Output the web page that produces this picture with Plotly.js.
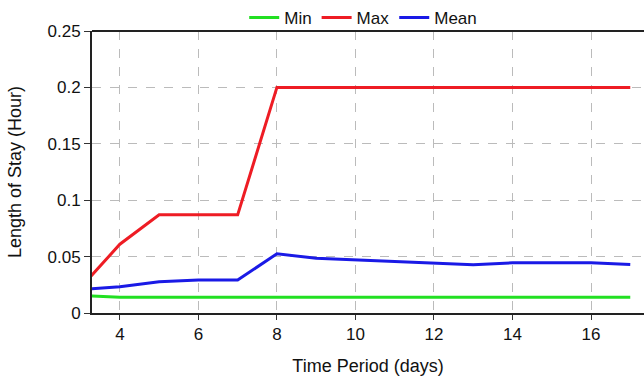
<!DOCTYPE html>
<html><head><meta charset="utf-8">
<script src="https://cdn.plot.ly/plotly-3.0.1.min.js"></script>
<style>html,body{margin:0;padding:0;background:#fff}#c{width:644px;height:379px}</style>
</head><body><div id="c"></div>
<script>
const days = [3, 4, 5, 6, 7, 8, 9, 10, 11, 12, 13, 14, 15, 16, 17];
const minVals = [0.0155, 0.014, 0.014, 0.014, 0.014, 0.014, 0.014, 0.014, 0.014, 0.014, 0.014, 0.014, 0.014, 0.014, 0.014];
const maxVals = [0.0224, 0.061, 0.087, 0.087, 0.087, 0.2, 0.2, 0.2, 0.2, 0.2, 0.2, 0.2, 0.2, 0.2, 0.2];
const meanVals = [0.0209, 0.0233, 0.0278, 0.0292, 0.0292, 0.0525, 0.0485, 0.047, 0.0458, 0.0446, 0.0428, 0.0445, 0.0445, 0.0445, 0.043];
const seriesNames = ['Min', 'Max', 'Mean'];

const font = 'Liberation Sans, Arial, sans-serif';
const mk = (y, name, color) => ({x: days, y: y, name: name, type: 'scatter', mode: 'lines', line: {color: color, width: 3}});
const data = [
  mk(minVals, seriesNames[0], '#22e022'),
  mk(maxVals, seriesNames[1], '#ee1c24'),
  mk(meanVals, seriesNames[2], '#1a1ae6')
];
const grid = {showgrid: true, gridcolor: '#bbbbbb', griddash: 'dash', gridwidth: 1};
const layout = {
  width: 644, height: 379,
  margin: {l: 92, r: 0, t: 31, b: 66, autoexpand: false},
  paper_bgcolor: '#fff', plot_bgcolor: '#fff',
  font: {family: font, size: 17, color: '#111'},
  showlegend: true,
  legend: {orientation: 'h', xref: 'container', yref: 'container', x: 0.564, xanchor: 'center', y: 1, yanchor: 'top', font: {size: 17}, itemwidth: 30, tracegroupgap: 0, bgcolor: 'rgba(0,0,0,0)'},
  xaxis: Object.assign({
    range: [3.29, 17.35], tickvals: [4, 6, 8, 10, 12, 14, 16], ticks: 'outside', ticklen: 5, tickcolor: '#333',
    showline: true, linecolor: '#222', linewidth: 2, mirror: false, zeroline: false,
    title: {text: 'Time Period (days)', font: {size: 18}, standoff: 16}
  }, grid),
  yaxis: Object.assign({
    range: [0, 0.25], tickvals: [0, 0.05, 0.1, 0.15, 0.2, 0.25], ticktext: ['0', '0.05', '0.1', '0.15', '0.2', '0.25'],
    ticks: 'outside', ticklen: 6, tickcolor: '#333',
    showline: true, linecolor: '#222', linewidth: 2, zeroline: false,
    title: {text: 'Length of Stay (Hour)', font: {size: 18}, standoff: 21}
  }, grid),
  shapes: [{type: 'line', xref: 'paper', yref: 'paper', x0: 0, x1: 1, y0: 1, y1: 1, line: {color: '#222', width: 2}}]
};
Plotly.newPlot('c', data, layout, {displayModeBar: false, staticPlot: true});
</script></body></html>
